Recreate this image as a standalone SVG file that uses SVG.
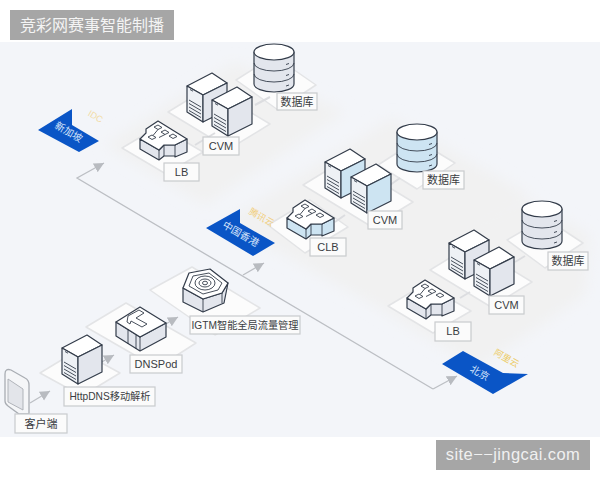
<svg xmlns="http://www.w3.org/2000/svg" width="600" height="480" viewBox="0 0 600 480">
<style>
text{font-family:"Liberation Sans","Noto Sans CJK SC",sans-serif}
.plat{fill:#fcfcfc;stroke:#e3e4e6;stroke-width:1.5;stroke-linejoin:round}
rect.lab{fill:#fbfbfb;stroke:#c9cbcd;stroke-width:1.2}
.lt{font-size:11px;fill:#3a3d42;text-anchor:middle}
.sm{font-size:10.200px}
.ln{fill:none;stroke:#bcbfc4;stroke-width:1.3}
.st{fill:none;stroke:#dcdde0;stroke-width:2}
.ic{stroke:#333c4a;stroke-width:1.2;stroke-linejoin:round}
.th{fill:none;stroke:#333c4a;stroke-width:.9}
.gray{color:#e3e6ed}
.blue{color:#cde4f2}
.flag{fill:#0a55c6}
.ft{font-size:10px;fill:#d6e4fa;text-anchor:middle}
.tag{font-size:9px;text-anchor:middle}
</style>
<defs>
<marker id="ah" markerUnits="userSpaceOnUse" markerWidth="12" markerHeight="12" refX="10" refY="5" orient="auto"><path d="M0 0L10 5L0 10Z" fill="#b8bbc0"/></marker>
<filter id="soft" x="-20%" y="-20%" width="140%" height="140%"><feGaussianBlur stdDeviation="7"/></filter>
<g id="server">
<path class="ic" d="M0 0L25-13L40-3L16 9Z" fill="#fff"/>
<path class="ic" d="M0 0L16 9V36L0 26Z" fill="#eef1f5"/>
<path class="ic" d="M16 9L40-3V24L16 36Z" fill="currentColor"/>
<path class="th" d="M3 3.500L6 5.200M2 14L14 21M2 17.500L14 24.500M2 21L14 28M2 24.500L14 31.500"/>
</g>
<g id="db">
<path class="ic" d="M-20 8V40A20 8 0 0 0 20 40V8Z" fill="currentColor"/>
<ellipse class="ic" cx="0" cy="8" rx="20" ry="8" fill="#fff"/>
<path class="th" d="M-20 19A20 8 0 0 0 20 19M-20 30A20 8 0 0 0 20 30M12 20.500L15 19.500M12 31.500L15 30.500M12 42L15 41"/>
</g>
<g id="lb">
<path class="ic" d="M0 0V10L19 21L24 17H35V18L47 13V0L35 6H24L19 11Z" fill="currentColor"/>
<path class="ic" d="M0 0L6-6V-10L18-18L47 0L35 6H24L19 11Z" fill="#fff"/>
<path class="th" d="M19 11V21M24 6V17M35 6V17.500"/>
<path class="th" d="M14-12l4-2 4 2.500-4 2zM21-7l4-2 4 2.500-4 2zM29-3l4-2 4 2.500-4 2zM8-2l4-2 4 2.500-4 2zM18-9.500l-5 6M25-4.500l-6 3"/>
</g>
</defs>

<rect x="0" y="0" width="600" height="480" fill="#fff"/>
<rect x="0" y="42" width="600" height="395" fill="#f3f5f9"/>
<g filter="url(#soft)" fill="#f1f1f1">
<polygon points="105,145 235,62 345,112 205,205"/>
<polygon points="225,222 392,118 530,195 365,300"/>
<polygon points="365,300 525,200 590,235 585,295 478,368"/>
</g>

<rect x="10" y="10" width="164" height="30" fill="#a6a6a6"/>
<text x="20" y="31" font-size="16" fill="#f4f4f4">竞彩网赛事智能制播</text>

<g id="platforms-top">
<polygon class="plat" points="236,80 274,56 316,85 278,110"/>
<polygon class="plat" points="168,112 209,87 270,124 229,149"/>
<polygon class="plat" points="122,148 159,126 203,152 166,174"/>
<polygon class="plat" points="378,165 417,140 455,163 417,189"/>
<polygon class="plat" points="303,185 344,160 413,202 372,227"/>
<polygon class="plat" points="268,225 310,200 348,227 305,253"/>
<polygon class="plat" points="507,240 545,218 583,243 545,268"/>
<polygon class="plat" points="430,270 471,245 532,282 491,307"/>
<polygon class="plat" points="388,306 425,284 471,311 433,333"/>
<polygon class="plat" points="150,290 192,267 260,308 215,335"/>
<polygon class="plat" points="86,327 126,303 196,343 157,368"/>
<polygon class="plat" points="40,373 78,350 120,373 82,396"/>
</g>

<g id="connectors">
<path class="st" d="M195 145L215 133M255 105L270 97M335 222L345 215M390 185L400 178M460 298L470 292M515 262L525 256"/>
<path class="ln" d="M30 403L50 391" marker-end="url(#ah)"/>
<path class="ln" d="M100 363L114 355" marker-end="url(#ah)"/>
<path class="ln" d="M164 325L178 317" marker-end="url(#ah)"/>
<path class="ln" d="M243 275L264 263" marker-end="url(#ah)"/>
<path class="ln" d="M433 389L77 178L104 163" marker-end="url(#ah)"/>
<path class="ln" d="M433 389L457 376" marker-end="url(#ah)"/>
</g>

<g id="flag-sg">
<polygon class="flag" points="38,130 72,109 72,125 99,141 79,152"/>
<text class="ft" transform="translate(67,135) rotate(30)">新加坡</text>
<text class="tag" fill="#f2dca6" transform="translate(94,119) rotate(30)">IDC</text>
</g>
<g id="flag-hk">
<polygon class="flag" points="206,228 240,209 240,223 275,243 253,256"/>
<text class="ft" transform="translate(239,237) rotate(30)">中国香港</text>
<text class="tag" fill="#f2cf7d" transform="translate(260,220) rotate(30)">腾讯云</text>
</g>
<g id="flag-bj">
<polygon class="flag" points="442,364 463,351 503,373 528,374 493,394"/>
<text class="ft" transform="translate(478,376) rotate(30)">北京</text>
<text class="tag" fill="#eccb63" transform="translate(505,361) rotate(30)">阿里云</text>
</g>

<g id="db-1"><use href="#db" class="gray" x="274" y="44"/><rect class="lab" x="277" y="93" width="40" height="17"/><text class="lt" x="297" y="106">数据库</text></g>
<g id="cvm-1"><use href="#server" class="gray" x="187" y="86"/><use href="#server" class="gray" x="212" y="100"/><rect class="lab" x="203" y="137" width="36" height="18"/><text class="lt" x="221" y="150">CVM</text></g>
<g id="lb-1"><use href="#lb" class="gray" x="140" y="139"/><rect class="lab" x="164" y="163" width="35" height="18"/><text class="lt" x="181.500" y="176">LB</text></g>

<g id="db-2"><use href="#db" class="blue" x="417" y="124"/><rect class="lab" x="423" y="171" width="41" height="18"/><text class="lt" x="443.500" y="184">数据库</text></g>
<g id="cvm-2"><use href="#server" class="blue" x="325" y="162"/><use href="#server" class="blue" x="351" y="177"/><rect class="lab" x="368" y="211" width="34" height="18"/><text class="lt" x="385" y="224">CVM</text></g>
<g id="clb"><use href="#lb" class="blue" x="287" y="218"/><rect class="lab" x="310" y="238" width="36" height="18"/><text class="lt" x="328" y="251">CLB</text></g>

<g id="db-3"><use href="#db" class="gray" x="542" y="201"/><rect class="lab" x="548" y="252" width="40" height="18"/><text class="lt" x="568" y="265">数据库</text></g>
<g id="cvm-3"><use href="#server" class="gray" x="449" y="243"/><use href="#server" class="gray" x="474" y="260"/><rect class="lab" x="489" y="296" width="35" height="18"/><text class="lt" x="506.500" y="309">CVM</text></g>
<g id="lb-3"><use href="#lb" class="gray" x="407" y="298"/><rect class="lab" x="435" y="322" width="36" height="19"/><text class="lt" x="453" y="335">LB</text></g>

<g id="igtm">
<path class="ic" d="M183 288V302L203 312L224 303L228 283L222 293L203 299Z" fill="#e3e6ed"/>
<path class="ic" d="M183 288L189 273L210 269L228 283L222 293L203 299Z" fill="#fff"/>
<path class="th" d="M203 299V312M222 293V303M189 286L193 276L209 273L222 283L218 290L203 294Z"/>
<ellipse class="th" cx="205" cy="283" rx="10" ry="7"/><ellipse class="th" cx="205" cy="283" rx="6" ry="4"/><ellipse class="th" cx="205" cy="283" rx="2.500" ry="1.800"/>
<rect class="lab" x="190" y="316" width="110" height="18"/><text class="lt sm" x="245" y="329">IGTM智能全局流量管理</text>
</g>
<g id="dnspod">
<path class="ic" d="M116 322V336L140 351L166 337V323L140 337Z" fill="#e3e6ed"/>
<path class="ic" d="M116 322L140 307L166 323L140 337Z" fill="#fff"/>
<path class="th" d="M128 316L139 310L144 313L136 318L147 324L142 327L131 321L130 324L127 322ZM140 337V351M128 329V344M136 335V349"/>
<rect class="lab" x="130" y="355" width="52" height="18"/><text class="lt" x="156" y="368">DNSPod</text>
</g>
<g id="httpdns"><use href="#server" class="gray" x="62" y="348"/><rect class="lab" x="64" y="387" width="91" height="19"/><text class="lt sm" x="110" y="400">HttpDNS移动解析</text></g>
<g id="client">
<path d="M5 374Q5 368 11 370L25 378Q29 380 29 385V414H19L8 406Q5 404 5 401Z" fill="#f5f6f8" stroke="#a9adb3" stroke-width="1.300"/>
<path d="M8 379L23 389V410L8 402Z" fill="#e3e5ea" stroke="#a9adb3" stroke-width=".9"/>
<rect class="lab" x="15" y="414" width="52" height="19"/><text class="lt" x="41" y="428">客户端</text>
</g>

<rect x="436" y="440" width="154" height="30" fill="#a6a6a6"/>
<text x="513" y="460" font-size="16.500" fill="#f0f0f0" text-anchor="middle" style="letter-spacing:.4px">site−−jingcai.com</text>
</svg>
